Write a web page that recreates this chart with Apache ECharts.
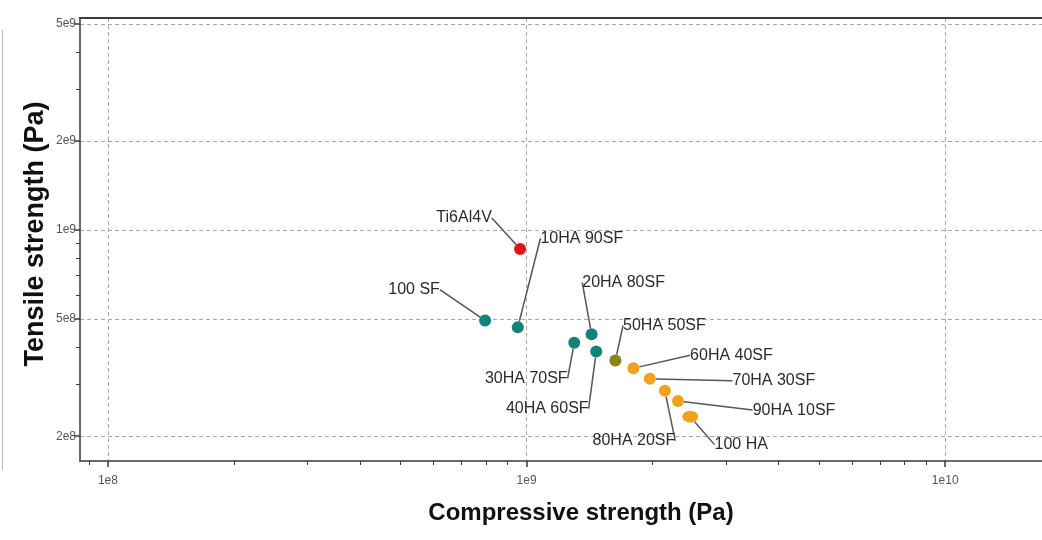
<!DOCTYPE html>
<html>
<head>
<meta charset="utf-8">
<script src="https://cdn.jsdelivr.net/npm/echarts@6/dist/echarts.min.js"></script>
<style>html,body{margin:0;padding:0;background:#fff;}#c{width:1042px;height:540px;}</style>
</head>
<body>
<div id="c"></div>
<script>
// ---- data ----
const names = ['Ti6Al4V','100 SF','10HA 90SF','20HA 80SF','30HA 70SF','40HA 60SF','50HA 50SF','60HA 40SF','70HA 30SF','80HA 20SF','90HA 10SF','100 HA'];
const compressive = [9.65e8, 7.96e8, 9.53e8, 1.43e9, 1.30e9, 1.467e9, 1.63e9, 1.80e9, 1.97e9, 2.14e9, 2.30e9, 2.46e9];
const tensile = [8.62e8, 4.93e8, 4.68e8, 4.43e8, 4.15e8, 3.87e8, 3.61e8, 3.40e8, 3.13e8, 2.85e8, 2.63e8, 2.33e8];
const groups = ['alloy','SF','SF','SF','SF','SF','mix','HA','HA','HA','HA','HA'];
const xTickValues = [1e8, 1e9, 1e10];
const xTickLabels = ['1e8', '1e9', '1e10'];
const yTickValues = [2e8, 5e8, 1e9, 2e9, 5e9];
const yTickLabels = ['2e8', '5e8', '1e9', '2e9', '5e9'];
const xMinorTicks = [9e7, 2e8, 3e8, 4e8, 5e8, 6e8, 7e8, 8e8, 9e8, 2e9, 3e9, 4e9, 5e9, 6e9, 7e9, 8e9, 9e9];
const yMinorTicks = [3e8, 4e8, 6e8, 7e8, 8e8, 9e8, 3e9, 4e9];
const xTitle = 'Compressive strength (Pa)';
const yTitle = 'Tensile strength (Pa)';

// ---- styles ----
const groupColors = {alloy: '#e0141c', SF: '#138279', mix: '#878516', HA: '#f0a21f'};
const labelOffsets = [[-56,-31],[-71,-31],[64,-89],[32,-52],[-48,36],[-49,57],[49,-35],[98,-13],[124,2],[-31,50],[116,9],[51,28]];
const symbolSizes = {'100 HA': [16, 12]};
const xMin = 8.576e7, xMax = 1.703e10, yMin = 1.648e8, yMax = 5.23e9;
const font = '"Liberation Sans", Arial, sans-serif';

const chart = echarts.init(document.getElementById('c'), null, {renderer: 'canvas'});
const gridLine = {show: true, lineStyle: {color: '#a8a8a8', type: [4, 3], width: 1}};
const axisLineStyle = {color: '#3a3a3a', width: 1.5};

const option = {
  backgroundColor: '#fff',
  animation: false,
  grid: {left: 80, top: 18, right: -2, bottom: 79, show: false},
  graphic: [
    {type: 'line', shape: {x1: 2.5, y1: 30, x2: 2.5, y2: 470}, style: {stroke: '#bdbdbd', lineWidth: 1}},
    {type: 'text', x: 581, y: 513, style: {text: xTitle, font: 'bold 24px ' + font, fill: '#111', textAlign: 'center', textVerticalAlign: 'middle'}},
    {type: 'text', x: 36, y: 234, rotation: Math.PI / 2, style: {text: yTitle, font: 'bold 27px ' + font, fill: '#111', textAlign: 'center', textVerticalAlign: 'middle'}}
  ],
  xAxis: [
    {
      type: 'log', logBase: 10, min: xMin, max: xMax, position: 'bottom',
      axisLine: {show: true, onZero: false, lineStyle: axisLineStyle},
      axisTick: {show: true, length: 6, customValues: xTickValues, lineStyle: {color: '#3a3a3a', width: 1.5}},
      axisLabel: {customValues: xTickValues, formatter: v => xTickLabels[xTickValues.findIndex(t => Math.abs(t - v) / t < 1e-6)] || '', fontFamily: font, fontSize: 12, color: '#555', margin: 14},
      splitLine: gridLine, minorTick: {show: false}
    },
    {
      type: 'log', logBase: 10, min: xMin, max: xMax, position: 'bottom',
      axisLine: {show: false},
      axisTick: {show: true, length: 4, customValues: xMinorTicks, lineStyle: {color: '#3a3a3a', width: 1}},
      axisLabel: {show: false}, splitLine: {show: false}
    },
    {
      type: 'log', logBase: 10, min: xMin, max: xMax, position: 'top',
      axisLine: {show: true, onZero: false, lineStyle: {color: '#3a3a3a', width: 2}},
      axisTick: {show: false}, axisLabel: {show: false}, splitLine: {show: false}
    }
  ],
  yAxis: [
    {
      type: 'log', logBase: 10, min: yMin, max: yMax, position: 'left',
      axisLine: {show: true, onZero: false, lineStyle: axisLineStyle},
      axisTick: {show: true, length: 6, customValues: yTickValues, lineStyle: {color: '#3a3a3a', width: 1.5}},
      axisLabel: {customValues: yTickValues, formatter: v => yTickLabels[yTickValues.findIndex(t => Math.abs(t - v) / t < 1e-6)] || '', fontFamily: font, fontSize: 12, color: '#555', margin: 4},
      splitLine: gridLine
    },
    {
      type: 'log', logBase: 10, min: yMin, max: yMax, position: 'left',
      axisLine: {show: false},
      axisTick: {show: true, length: 4, customValues: yMinorTicks, lineStyle: {color: '#3a3a3a', width: 1}},
      axisLabel: {show: false}, splitLine: {show: false}
    }
  ],
  series: [{
    type: 'scatter',
    xAxisIndex: 0, yAxisIndex: 0,
    data: names.map((n, i) => ({
      name: n,
      value: [compressive[i], tensile[i]],
      symbolSize: symbolSizes[n] || 12,
      itemStyle: {color: groupColors[groups[i]], opacity: 1}
    })),
    label: {
      show: true, position: 'inside', formatter: '{b}', padding: [3, 4],
      fontFamily: font, fontSize: 16, color: '#2b2b2b'
    },
    labelLine: {show: true, lineStyle: {color: '#555', width: 1.5}},
    labelLayout: params => ({dx: labelOffsets[params.dataIndex][0], dy: labelOffsets[params.dataIndex][1]})
  }]
};
chart.setOption(option);
</script>
</body>
</html>
